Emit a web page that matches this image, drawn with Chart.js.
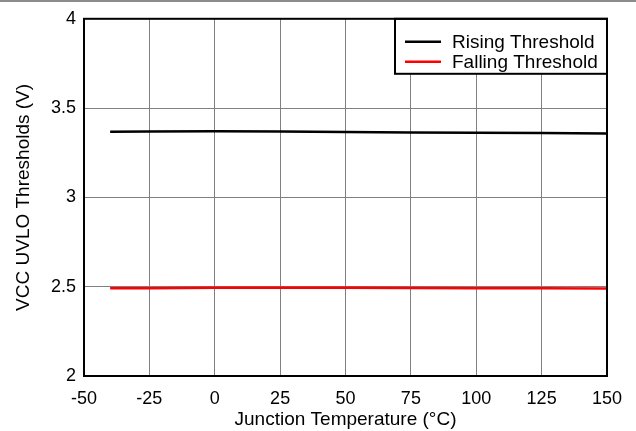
<!DOCTYPE html>
<html lang="en">
<head>
  <meta charset="UTF-8" />
  <title>VCC UVLO Thresholds vs Junction Temperature</title>
  <script src="https://cdn.jsdelivr.net/npm/chart.js"></script>
  <style>
    body {
      margin: 0;
      background: #fff;
    }
    .topline {
      position: absolute;
      left: 0;
      top: 0;
      width: 636px;
      height: 2px;
      background: #8c8c8c;
    }
    #wrap {
      width: 636px;
      height: 431px;
    }
  </style>
</head>
<body>
<div class="topline"></div>
<div id="wrap"><canvas id="uvloChart"></canvas></div>

<script>
  const temps = [-40, -25, 0, 25, 50, 75, 100, 125, 150];
  const risingVals = [3.368, 3.369, 3.370, 3.369, 3.366, 3.364, 3.362, 3.360, 3.358];
  const fallingVals = [2.491, 2.492, 2.494, 2.494, 2.494, 2.493, 2.492, 2.491, 2.490];
  const xTicks = [-50, -25, 0, 25, 50, 75, 100, 125, 150];
  const yTicks = [2, 2.5, 3, 3.5, 4];

  const family = 'Liberation Sans, Arial, sans-serif';
  const tickFont = { family, size: 18 };
  const titleFont = { family, size: 19 };

  // frame around plot area + legend box in the upper right corner
  const framePlugin = {
    id: 'frame',
    afterDraw(chart) {
      const { ctx, chartArea: a } = chart;
      ctx.save();

      // legend
      const bx = 395, by = a.top, bw = a.right - bx, bh = 55;
      ctx.fillStyle = '#fff';
      ctx.fillRect(bx, by, bw, bh);
      ctx.strokeStyle = '#000';
      ctx.lineWidth = 2;
      ctx.strokeRect(bx, by, bw, bh);
      ctx.font = '19px ' + family;
      ctx.textBaseline = 'middle';
      chart.data.datasets.forEach((ds, i) => {
        const y = by + 23 + i * 20;
        ctx.strokeStyle = ds.borderColor;
        ctx.lineWidth = 2.5;
        ctx.beginPath();
        ctx.moveTo(bx + 10, y);
        ctx.lineTo(bx + 46, y);
        ctx.stroke();
        ctx.fillStyle = '#000';
        ctx.fillText(ds.label, bx + 57, y + 1);
      });

      ctx.strokeStyle = '#000';
      ctx.lineWidth = 2;
      ctx.strokeRect(a.left, a.top, a.right - a.left, a.bottom - a.top);
      ctx.restore();
    }
  };

  new Chart(document.getElementById('uvloChart'), {
    type: 'line',
    data: {
      datasets: [
        {
          label: 'Rising Threshold',
          data: temps.map((t, i) => ({ x: t, y: risingVals[i] })),
          borderColor: '#000000',
          borderWidth: 2.5,
          pointRadius: 0,
          fill: false
        },
        {
          label: 'Falling Threshold',
          data: temps.map((t, i) => ({ x: t, y: fallingVals[i] })),
          borderColor: '#ff0000',
          borderWidth: 2.5,
          pointRadius: 0,
          fill: false
        }
      ]
    },
    options: {
      responsive: true,
      maintainAspectRatio: false,
      animation: false,
      layout: { padding: { top: 18, right: 29, left: 0, bottom: 0 } },
      plugins: {
        legend: { display: false },
        tooltip: { enabled: false }
      },
      scales: {
        x: {
          type: 'linear',
          min: -50,
          max: 150,
          afterBuildTicks: s => { s.ticks = xTicks.map(v => ({ value: v })); },
          afterFit: s => { s.height = 55; },
          grid: { color: '#808080', lineWidth: 1, drawTicks: false },
          border: { display: false },
          ticks: { color: '#000', font: tickFont, padding: 12, maxRotation: 0 },
          title: {
            display: true,
            text: 'Junction Temperature (°C)',
            color: '#000',
            font: titleFont,
            padding: { top: 0, bottom: 0 }
          }
        },
        y: {
          min: 2,
          max: 4,
          afterBuildTicks: s => { s.ticks = yTicks.map(v => ({ value: v })); },
          afterFit: s => { s.width = 84; },
          grid: { color: '#808080', lineWidth: 1, drawTicks: false },
          border: { display: false },
          ticks: { color: '#000', font: tickFont, padding: 8, callback: v => String(v) },
          title: {
            display: true,
            text: 'VCC UVLO Thresholds (V)',
            color: '#000',
            font: titleFont,
            padding: { top: 12, bottom: 0 }
          }
        }
      }
    },
    plugins: [framePlugin]
  });
</script>
</body>
</html>
